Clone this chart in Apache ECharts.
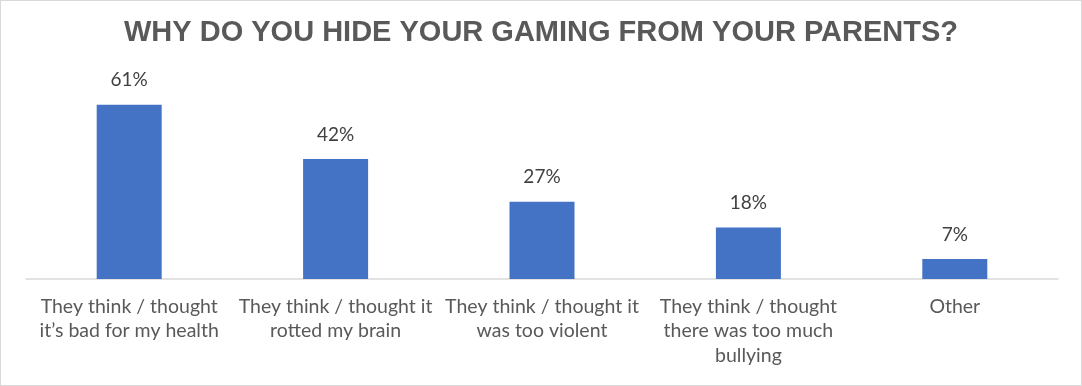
<!DOCTYPE html>
<html><head><meta charset="utf-8">
<script src="https://cdn.jsdelivr.net/npm/echarts@6/dist/echarts.min.js"></script>
<style>
html,body{margin:0;padding:0;background:#fff;}
#c{width:1082px;height:386px;box-sizing:border-box;border:1px solid #d9d9d9;}
</style></head>
<body><div id="c"></div>
<script>
const titleText = 'WHY DO YOU HIDE YOUR GAMING FROM YOUR PARENTS?';
const categories = [
  'They think / thought\nit\u2019s bad for my health',
  'They think / thought it\nrotted my brain',
  'They think / thought it\nwas too violent',
  'They think / thought\nthere was too much\nbullying',
  'Other'
];
const values = [61, 42, 27, 18, 7];

const chart = echarts.init(document.getElementById('c'), null, {renderer:'canvas'});
chart.setOption({
  animation:false,
  title:{
    text:titleText, left:'center', top:12,
    textStyle:{fontFamily:'Liberation Sans, Arial, sans-serif', fontWeight:'bold', fontSize:29, color:'#595959'}
  },
  grid:{left:25, right:23, top:78, bottom:106},
  xAxis:{
    type:'category', data:categories,
    axisLine:{lineStyle:{color:'#d9d9d9', width:1.5}},
    axisTick:{show:false},
    axisLabel:{interval:0, color:'#595959', fontFamily:'Lato, Carlito, Calibri, sans-serif', fontSize:19.5, lineHeight:24.5, margin:15}
  },
  yAxis:{type:'value', min:0, max:70, show:false, splitLine:{show:false}},
  series:[{
    type:'bar', data:values, barWidth:65,
    itemStyle:{color:'#4472C4'},
    label:{show:true, position:'top', distance:15, formatter:'{c}%', color:'#404040', fontFamily:'Lato, Carlito, Calibri, sans-serif', fontSize:19}
  }]
});
</script></body></html>
